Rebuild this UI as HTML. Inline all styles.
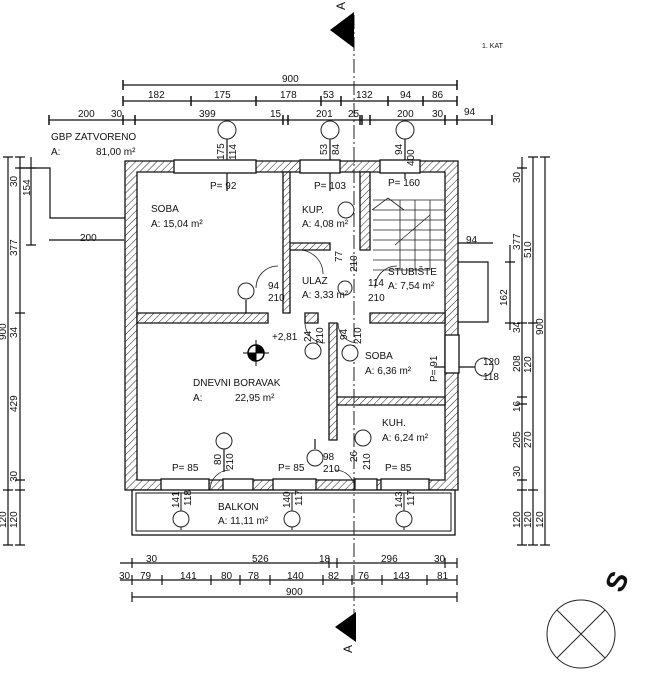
<!DOCTYPE html><html><head><meta charset="utf-8"><style>
body{margin:0;background:#fff;}
svg{display:block;font-family:"Liberation Sans",sans-serif;}
text{fill:#111;}
</style></head><body>
<svg width="669" height="690" viewBox="0 0 669 690" font-size="10">
<defs>
<pattern id="h" width="5" height="5" patternUnits="userSpaceOnUse" patternTransform="rotate(45)">
<rect width="5" height="5" fill="#fff"/><line x1="0" y1="0" x2="0" y2="5" stroke="#222" stroke-width="1"/></pattern>
</defs>
<g stroke="#111" stroke-width="1.2" fill="none">
<line x1="123" y1="85" x2="457" y2="85"/>
<line x1="123" y1="101" x2="457" y2="101"/>
<line x1="49" y1="120" x2="492" y2="120"/>
<g stroke-width="1.5">
<path d="M123 80v10M457 80v10"/>
<path d="M123 96v10M191 96v10M256 96v10M321 96v10M341 96v10M388 96v10M423 96v10M457 96v10"/>
<path d="M49 115v10M123 115v10M135 115v10M283 115v10M288 115v10M360 115v10M362 115v10M370 115v10M445 115v10M457 115v10M492 115v10"/>
</g>
<line x1="8" y1="157" x2="8" y2="545"/>
<line x1="20" y1="157" x2="20" y2="545"/>
<line x1="31" y1="157" x2="31" y2="245"/>
<path d="M3 157h10M3 490h10M3 545h10M15 157h10M15 168h10M15 313h10M15 480h10M15 490h10M15 545h10M26 168h10M26 245h10"/>
<path d="M20 168h30v50h85" /><path d="M49 240h75"/>
<line x1="522" y1="157" x2="522" y2="545"/>
<line x1="533" y1="157" x2="533" y2="545"/>
<line x1="545" y1="157" x2="545" y2="545"/>
<line x1="510" y1="245" x2="510" y2="330"/>
<path d="M517 168h10M517 323h10M517 397h10M517 404h10M517 480h10M517 490h10M517 545h10M528 157h10M528 323h10M528 490h10M528 545h10M540 157h10M540 545h10M505 262h10M505 323h10"/>
<path d="M458 243h35M458 262h30v60h-30"/>
<line x1="120" y1="563" x2="457" y2="563"/>
<line x1="120" y1="580" x2="457" y2="580"/>
<line x1="132" y1="597" x2="457" y2="597"/>
<path d="M132 558v10M329 558v10M337 558v10M445 558v10M457 558v10M132 575v10M162 575v10M211 575v10M240 575v10M270 575v10M323 575v10M352 575v10M382 575v10M427 575v10M457 575v10M132 592v10M457 592v10"/>
<!-- circle leader lines -->
<path d="M227 139v52M330 139v52M405 139v40M246 300v14M484 367h-50M224 432v40M181 510v-20M292 510v-20M404 510v-20M315 449v-10"/>
</g>
<g stroke="#111" stroke-width="1.3">
<path fill="url(#h)" fill-rule="evenodd" d="M125 161H458V490H125Z M137 172H445V480H137Z"/>
<path fill="url(#h)" d="M137 313H268V323H137Z M283 172H290V313H283Z M290 243H330V250H290Z M360 172H370V250H360Z M370 313H445V323H370Z M329 323H337V440H329Z M337 397H445V405H337Z M305 313H318V323H305Z"/>
<g fill="#fff"><rect x="174" y="160" width="82" height="13"/><rect x="300" y="160" width="40" height="13"/><rect x="380" y="160" width="40" height="13"/>
<rect x="161" y="479" width="48" height="12"/><rect x="273" y="479" width="43" height="12"/><rect x="381" y="479" width="48" height="12"/><rect x="223" y="479" width="30" height="12"/><rect x="355" y="479" width="22" height="12"/><rect x="445" y="335" width="14" height="38"/></g>
<rect x="132" y="490" width="323" height="45" fill="#fff"/>
<rect x="136" y="493" width="315" height="38" fill="none" stroke-width="1"/>
</g>
<g stroke="#111" stroke-width="1" fill="none"><path d="M181 493v37M292 493v37M404 493v37"/></g>
<g stroke="#222" stroke-width="0.8" fill="none">
<path d="M373 200H445M373 210H445M373 220H445M373 230H445M373 240H445M373 250H445M373 260H445M373 270H430M400 200V270M415 200V270M430 200V270"/>
<path d="M372 210l16-12 16 12M395 245l35-30"/>
<path d="M256 288a22 22 0 0 1 22-22M375 288a22 22 0 0 1 22-22M299 250a24 24 0 0 1 24 24M305 323a20 20 0 0 0 20 20M338 323a20 20 0 0 0 20 20M210 490a20 20 0 0 1 20-20M355 490a20 20 0 0 0-20-20"/>
</g>
<line x1="354" y1="15" x2="354" y2="640" stroke="#222" stroke-width="1" stroke-dasharray="14,3,2,3"/>
<polygon points="330,30 354,12 354,48" fill="#000"/>
<polygon points="335,627 356,612 356,642" fill="#000"/>
<text x="345" y="10" transform="rotate(-90 345 10)" font-size="12">A</text>
<text x="352" y="653" transform="rotate(-90 352 653)" font-size="12">A</text>
<g fill="#fff" stroke="#222" stroke-width="1">
<circle cx="227" cy="130" r="9"/><circle cx="330" cy="130" r="9"/><circle cx="405" cy="130" r="9"/>
<circle cx="346" cy="210" r="8"/><circle cx="246" cy="291" r="8"/><circle cx="345" cy="288" r="7"/>
<circle cx="313" cy="351" r="8"/><circle cx="350" cy="353" r="8"/><circle cx="484" cy="367" r="9"/>
<circle cx="224" cy="441" r="8"/><circle cx="363" cy="438" r="8"/><circle cx="315" cy="458" r="8"/>
<circle cx="181" cy="519" r="8"/><circle cx="292" cy="519" r="8"/><circle cx="404" cy="519" r="8"/>
<circle cx="581" cy="634" r="34" fill="none"/>
</g>
<path d="M557 610l48 48M605 610l-48 48" stroke="#222"/>
<circle cx="256" cy="353" r="8" fill="#fff" stroke="#000" stroke-width="1.5"/>
<path d="M256 353h-8a8 8 0 0 0 8 8z M256 353h8a8 8 0 0 0-8-8z" fill="#000"/>
<path d="M243 353h26M256 340v26" stroke="#000"/>
<text x="605" y="588" font-size="28" font-weight="bold" transform="rotate(-65 618 578)">S</text>
<text x="482" y="48" font-size="7">1. KAT</text>
<text x="282" y="82">900</text>
<text x="148" y="98">182</text><text x="214" y="98">175</text><text x="280" y="98">178</text><text x="323" y="98">53</text><text x="356" y="98">132</text><text x="400" y="98">94</text><text x="432" y="98">86</text>
<text x="78" y="117">200</text><text x="111" y="117">30</text><text x="199" y="117">399</text><text x="270" y="117">15</text><text x="316" y="117">201</text><text x="348" y="117">25</text><text x="397" y="117">200</text><text x="432" y="117">30</text><text x="464" y="115">94</text>
<text x="51" y="140">GBP ZATVORENO</text><text x="51" y="155">A:</text><text x="96" y="155">81,00 m²</text>
<text x="80" y="241">200</text><text x="466" y="243">94</text>
<text x="146" y="562">30</text><text x="252" y="562">526</text><text x="319" y="562">18</text><text x="381" y="562">296</text><text x="434" y="562">30</text>
<text x="119" y="579">30</text><text x="140" y="579">79</text><text x="180" y="579">141</text><text x="221" y="579">80</text><text x="248" y="579">78</text><text x="287" y="579">140</text><text x="328" y="579">82</text><text x="358" y="579">76</text><text x="393" y="579">143</text><text x="437" y="579">81</text>
<text x="286" y="595">900</text>
<!-- rotated dims -->
<g>
<text transform="translate(17,187) rotate(-90)">30</text>
<text transform="translate(30,196) rotate(-90)">154</text>
<text transform="translate(17,256) rotate(-90)">377</text>
<text transform="translate(6,340) rotate(-90)">900</text>
<text transform="translate(17,338) rotate(-90)">34</text>
<text transform="translate(17,412) rotate(-90)">429</text>
<text transform="translate(17,482) rotate(-90)">30</text>
<text transform="translate(6,528) rotate(-90)">120</text>
<text transform="translate(17,528) rotate(-90)">120</text>
<text transform="translate(520,183) rotate(-90)">30</text>
<text transform="translate(520,250) rotate(-90)">377</text>
<text transform="translate(531,258) rotate(-90)">510</text>
<text transform="translate(507,306) rotate(-90)">162</text>
<text transform="translate(520,333) rotate(-90)">34</text>
<text transform="translate(543,335) rotate(-90)">900</text>
<text transform="translate(520,372) rotate(-90)">208</text>
<text transform="translate(531,373) rotate(-90)">120</text>
<text transform="translate(520,412) rotate(-90)">16</text>
<text transform="translate(520,448) rotate(-90)">205</text>
<text transform="translate(531,448) rotate(-90)">270</text>
<text transform="translate(520,477) rotate(-90)">30</text>
<text transform="translate(520,528) rotate(-90)">120</text>
<text transform="translate(531,528) rotate(-90)">120</text>
<text transform="translate(543,528) rotate(-90)">120</text>
<text transform="translate(224,160) rotate(-90)">175</text>
<text transform="translate(236,160) rotate(-90)">114</text>
<text transform="translate(327,155) rotate(-90)">53</text>
<text transform="translate(339,155) rotate(-90)">84</text>
<text transform="translate(402,155) rotate(-90)">94</text>
<text transform="translate(414,166) rotate(-90)">400</text>
<text transform="translate(342,262) rotate(-90)">77</text>
<text transform="translate(357,272) rotate(-90)">210</text>
<text transform="translate(311,342) rotate(-90)">24</text>
<text transform="translate(323,344) rotate(-90)">210</text>
<text transform="translate(347,340) rotate(-90)">94</text>
<text transform="translate(361,344) rotate(-90)">210</text>
<text transform="translate(437,382) rotate(-90)">P= 91</text>
<text transform="translate(221,465) rotate(-90)">80</text>
<text transform="translate(233,470) rotate(-90)">210</text>
<text transform="translate(357,462) rotate(-90)">26</text>
<text transform="translate(370,470) rotate(-90)">210</text>
<text transform="translate(179,508) rotate(-90)">141</text>
<text transform="translate(191,506) rotate(-90)">118</text>
<text transform="translate(290,508) rotate(-90)">140</text>
<text transform="translate(302,506) rotate(-90)">117</text>
<text transform="translate(402,508) rotate(-90)">143</text>
<text transform="translate(414,506) rotate(-90)">117</text>
</g>
<text x="151" y="212">SOBA</text><text x="151" y="227">A: 15,04 m²</text>
<text x="302" y="213">KUP.</text><text x="302" y="227">A: 4,08 m²</text>
<text x="388" y="275">STUBIŠTE</text><text x="388" y="289">A: 7,54 m²</text>
<text x="302" y="284">ULAZ</text><text x="302" y="298">A: 3,33 m²</text>
<text x="365" y="359">SOBA</text><text x="365" y="374">A: 6,36 m²</text>
<text x="382" y="426">KUH.</text><text x="382" y="441">A: 6,24 m²</text>
<text x="193" y="386">DNEVNI BORAVAK</text><text x="193" y="401">A:</text><text x="235" y="401">22,95 m²</text>
<text x="218" y="510">BALKON</text><text x="218" y="524">A: 11,11 m²</text>
<text x="210" y="189">P= 92</text><text x="314" y="189">P= 103</text><text x="388" y="186">P= 160</text>
<text x="172" y="471">P= 85</text><text x="278" y="471">P= 85</text><text x="385" y="471">P= 85</text>
<text x="268" y="289">94</text><text x="268" y="301">210</text><text x="368" y="286">114</text><text x="368" y="301">210</text>
<text x="272" y="340">+2,81</text><text x="323" y="460">98</text><text x="323" y="472">210</text>
<text x="483" y="365">120</text><text x="483" y="380">118</text>
</svg>
</body></html>
